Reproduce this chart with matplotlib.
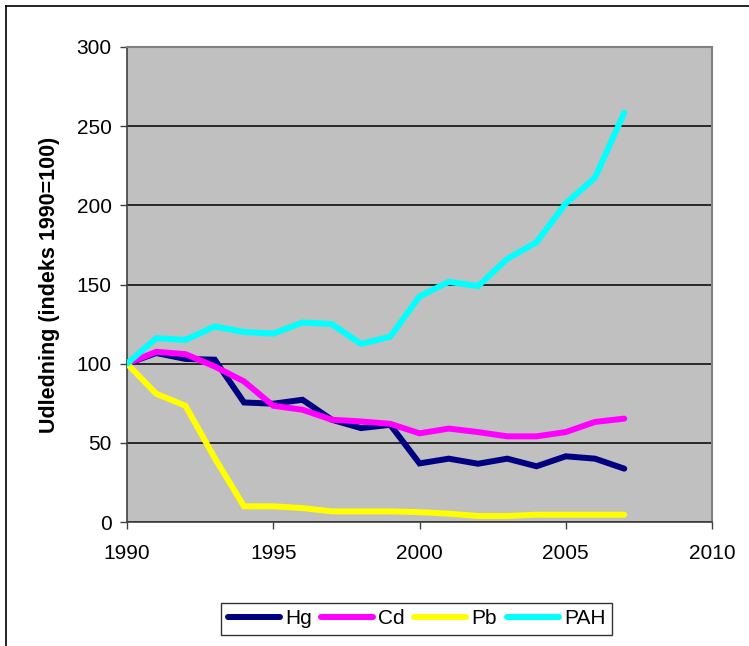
import matplotlib
matplotlib.use("Agg")
import matplotlib.pyplot as plt
from matplotlib.lines import Line2D

plt.rcParams['font.family'] = ['Liberation Sans', 'DejaVu Sans']

years = list(range(1990, 2008))
hg = [100, 106.7, 103, 102.5, 75.5, 74.7, 77.2, 64.6, 59.3, 61.4,
      37, 40, 36.8, 40, 35.2, 41.5, 40, 33.7]
cd = [100, 107.5, 106, 98.2, 88.8, 73.4, 70.9, 64.6, 63.5, 62,
      56, 59, 56.8, 54.1, 54.1, 56.8, 63.2, 65.3]
pb = [100, 81, 73.4, 40.4, 9.9, 9.9, 8.8, 6.7, 6.7, 6.7,
      6.2, 5.3, 3.8, 3.8, 4.6, 4.6, 4.6, 4.6]
pah = [100, 116.1, 115, 123.5, 120, 119, 126, 125, 112.5, 117,
       142.4, 151.7, 149, 166.2, 176.7, 201.2, 217.5, 258.5]

series_names = ['Hg', 'Cd', 'Pb', 'PAH']
series_values = [hg, cd, pb, pah]
series_colors = ['#000080', '#FF00FF', '#FFFF00', '#00FFFF']

x_ticks = [1990, 1995, 2000, 2005, 2010]
y_ticks = [0, 50, 100, 150, 200, 250, 300]

fig = plt.figure(figsize=(7.49, 6.46), dpi=100)
ax = fig.add_axes([127 / 749, 1 - 522 / 646, (712 - 127) / 749, (522 - 47) / 646])
ax.set_facecolor('#C0C0C0')

# outer chart frame (top and left edges visible)
fig.add_artist(Line2D([6 / 749, 1.0], [1 - 6 / 646, 1 - 6 / 646], color='black', lw=1.2,
                      transform=fig.transFigure))
fig.add_artist(Line2D([6 / 749, 6 / 749], [0.0, 1 - 6 / 646], color='black', lw=1.2,
                      transform=fig.transFigure))

for name, vals, col in zip(series_names, series_values, series_colors):
    ax.plot(years, vals, color=col, lw=4.3, label=name, solid_capstyle='round',
            solid_joinstyle='miter', zorder=3)

ax.set_xlim(1990, 2010)
ax.set_ylim(0, 300)
ax.set_xticks(x_ticks)
ax.set_yticks(y_ticks)
ax.yaxis.grid(True, color='black', lw=1.1)
ax.set_axisbelow(True)

for s in ['top', 'right']:
    ax.spines[s].set_color('#808080')
    ax.spines[s].set_linewidth(1.5)
for s in ['left', 'bottom']:
    ax.spines[s].set_color('#404040')
    ax.spines[s].set_linewidth(1.2)

ax.tick_params(axis='y', direction='out', length=5, width=1, color='#404040',
               labelsize=15, pad=6)
ax.tick_params(axis='x', direction='out', length=5, width=1, color='#404040',
               labelsize=15, pad=11)

ax.set_ylabel('Udledning (indeks 1990=100)', fontsize=15.5, fontweight='bold', labelpad=12)

leg = fig.legend(loc='center', bbox_to_anchor=(416.5 / 749, 1 - 619 / 646), ncol=4,
                 fontsize=15, frameon=True, fancybox=False, edgecolor='black',
                 handlelength=2.5, handletextpad=0.25, columnspacing=0.45,
                 borderpad=0.3)
leg.get_frame().set_linewidth(1.0)
for h in leg.get_lines():
    h.set_solid_capstyle('round')

fig.savefig('out.png', dpi=100)
